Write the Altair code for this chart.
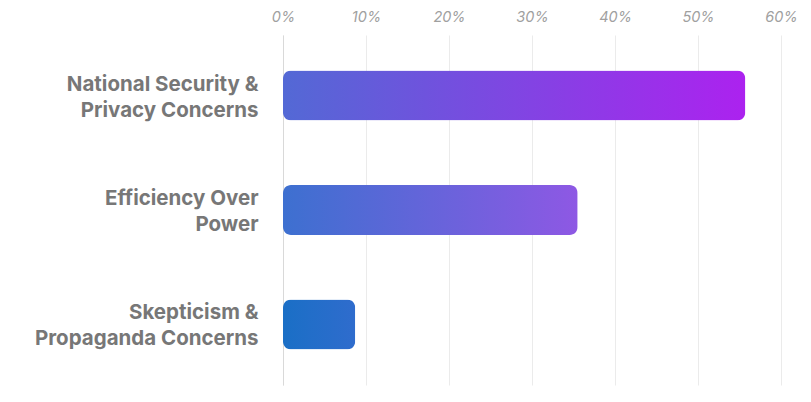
import altair as alt
import pandas as pd

categories = ["National Security &\nPrivacy Concerns", "Efficiency Over\nPower", "Skepticism &\nPropaganda Concerns"]
values = [55.7, 35.5, 8.7]
left_colors = ["#5369d5", "#3d70d0", "#1a6fc6"]
right_colors = ["#ac22ef", "#8e58e4", "#2f6ccd"]
tick_values = [0, 10, 20, 30, 40, 50, 60]

df = pd.DataFrame({"cat": categories, "val": values})

x = alt.X("val:Q", scale=alt.Scale(domain=[0, 60], nice=False),
          axis=alt.Axis(orient="top", values=tick_values, labelExpr="datum.value + '%'",
                        title=None, ticks=False, domain=False, grid=True, gridColor="#ebebeb",
                        labelColor="#a0a0a0", labelFont="Inter", labelFontSize=14.5,
                        labelFontStyle="italic", labelPadding=11, labelFlush=False))
y = alt.Y("cat:N", sort=categories,
          scale=alt.Scale(paddingInner=0, paddingOuter=0.03),
          axis=alt.Axis(title=None, ticks=False, domain=True, domainColor="#d9d9d9", grid=False,
                        labelExpr="split(datum.label, '\\n')", labelColor="#777777",
                        labelFont="Inter", labelFontSize=20.5, labelFontWeight="bold",
                        labelLineHeight=26, labelPadding=25, labelAlign="right",
                        labelOffset=-11, labelLimit=400))

layers = []
for c, lc, rc in zip(categories, left_colors, right_colors):
    grad = alt.Gradient(gradient="linear", x1=0, y1=0.5, x2=1, y2=0.5,
                        stops=[alt.GradientStop(color=lc, offset=0), alt.GradientStop(color=rc, offset=1)])
    layers.append(
        alt.Chart(df).transform_filter(alt.datum.cat == c)
        .mark_bar(cornerRadius=8, size=50, fill=grad)
        .encode(x=x, y=y)
    )

chart = alt.layer(*layers).properties(
    width=498, height=350,
    autosize=alt.AutoSizeParams(type="none"),
    padding={"left": 283, "top": 35, "right": 30, "bottom": 17},
    view=alt.ViewBackground(strokeWidth=0, stroke="transparent"),
).configure_view(strokeWidth=0, stroke="transparent").configure_axis(gridColor="#ebebeb").configure(background="white")

chart.save("out.html", embed_options={"renderer": "svg", "actions": False})
